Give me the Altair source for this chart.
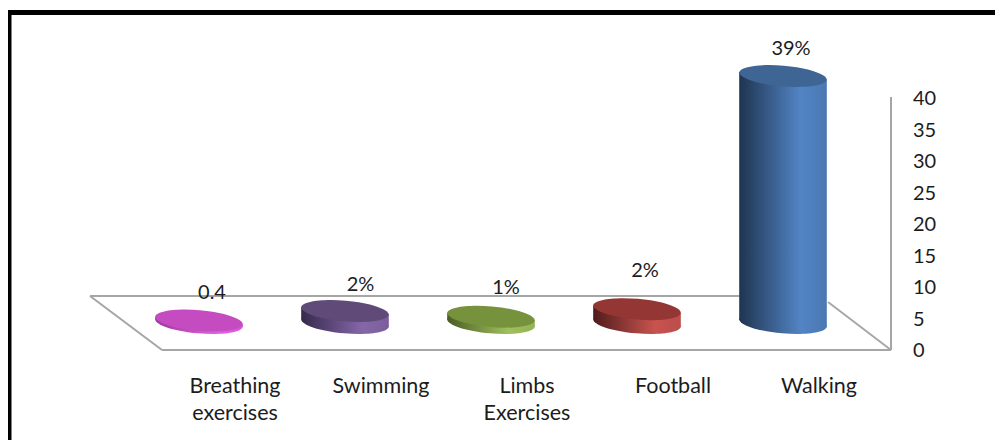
import altair as alt
import pandas as pd

categories = ["Breathing exercises", "Swimming", "Limbs Exercises", "Football", "Walking"]
values = [0.4, 1.9, 1.0, 2.2, 39.2]
value_labels = ["0.4", "2%", "1%", "2%", "39%"]
line1 = ["Breathing", "Swimming", "Limbs", "Football", "Walking"]
line2 = ["exercises", "", "Exercises", "", ""]
ticks = [0, 5, 10, 15, 20, 25, 30, 35, 40]

FONT = "Lato"
INK = "#1c1c1c"
GRID = "#a6a6a6"
PX_PER_UNIT = 6.3
STEP = 146
DEPTH = 27 / PX_PER_UNIT
TILT = 3.8 / PX_PER_UNIT
HALF = 43.8 / STEP
ELLIPSE = "M-0.996,-0.087A1,0.24,5,0,1,0.996,0.087A1,0.24,5,0,1,-0.996,-0.087Z"
BAR = 88
W, H = 987, 432

palette = [
    ("#c44cc0", "#9c389a", "#e25fdd", "#d957d4"),
    ("#5f4a78", "#35294c", "#8567a8", "#7a5e9a"),
    ("#76923c", "#4a5c26", "#a0c05c", "#93b255"),
    ("#943634", "#4f1c1b", "#c8534f", "#bb4d4a"),
    ("#3f6594", "#1f3451", "#5284c4", "#4a78b2"),
]
label_nudge = [(13, -28.5), (15.5, -27), (15, -30), (8, -39), (8, -28)]

x_scale = alt.Scale(domain=[-191 / STEP, (W - 191) / STEP], nice=False, zero=False)
y_scale = alt.Scale(domain=[(342 - H) / PX_PER_UNIT, 342 / PX_PER_UNIT], nice=False, zero=False)
X = alt.X("pos:Q", scale=x_scale, axis=None)
Yq = lambda f: alt.Y(f"{f}:Q", scale=y_scale, axis=None)


def line(x1, y1, x2, y2, color=GRID, w=2):
    return alt.Chart(pd.DataFrame({"a": [0]})).mark_rule(color=color, strokeWidth=w).encode(
        x=alt.value(x1 - 8), x2=alt.value(x2 - 8), y=alt.value(y1 - 8), y2=alt.value(y2 - 8)
    )


def grad(dark, light, end):
    return alt.LinearGradient(
        gradient="linear", x1=0, x2=1, y1=0, y2=0,
        stops=[
            alt.GradientStop(offset=0, color=dark),
            alt.GradientStop(offset=0.7, color=light),
            alt.GradientStop(offset=1, color=end),
        ],
    )


layers = [
    line(90, 296, 790, 296),
    line(90, 296, 162, 350),
    line(828, 302, 891, 350),
    line(162, 350, 891, 350),
    line(891, 97, 891, 350),
    line(8, 12.5, 8 + W, 12.5, "#000000", 5),
    line(9.5, 10, 9.5, 8 + H, "#000000", 4),
]

for i, cat in enumerate(categories):
    top, dark, light, end = palette[i]
    g = grad(dark, light, end)
    v = values[i] + DEPTH
    d = pd.DataFrame({"pos": [i], "base": [DEPTH], "top": [v], "lab": [value_labels[i]]})
    body = pd.DataFrame({
        "pos": [i - HALF, i + HALF],
        "upper": [v + TILT, v - TILT],
        "lower": [DEPTH + TILT, DEPTH - TILT],
    })
    base = alt.Chart(d)
    layers.append(base.mark_point(shape=ELLIPSE, size=BAR ** 2, filled=True, fill=g, opacity=1, strokeWidth=0)
                  .encode(x=X, y=Yq("base")))
    layers.append(alt.Chart(body).mark_area(fill=g, opacity=1, interpolate="linear")
                  .encode(x=X, y=Yq("upper"), y2=alt.Y2("lower:Q")))
    layers.append(base.mark_point(shape=ELLIPSE, size=BAR ** 2, filled=True, fill=top, opacity=1, strokeWidth=0)
                  .encode(x=X, y=Yq("top")))
    dx, dy = label_nudge[i]
    layers.append(base.mark_text(font=FONT, fontSize=20, color=INK, dx=dx, dy=dy + 1, baseline="middle", align="center")
                  .encode(x=X, y=Yq("top"), text="lab:N"))

xlab = pd.DataFrame({"pos": list(range(len(categories))), "l1": line1, "l2": line2})
layers.append(alt.Chart(xlab).mark_text(font=FONT, fontSize=21.5, color=INK, dx=36, baseline="middle")
              .encode(x=X, y=alt.value(378.5), text="l1:N"))
layers.append(alt.Chart(xlab).mark_text(font=FONT, fontSize=21.5, color=INK, dx=36, baseline="middle")
              .encode(x=X, y=alt.value(405.5), text="l2:N"))
layers.append(alt.Chart(pd.DataFrame({"t": ticks})).mark_text(font=FONT, fontSize=20, color=INK, align="left", baseline="middle", dy=1)
              .encode(x=alt.value(905), y=Yq("t"), text="t:Q"))

chart = alt.layer(*layers).properties(
    width=W, height=H, padding=0, background="#ffffff", autosize=alt.AutoSizeParams(type="none")
).configure_view(stroke=None)
chart.save("out.html", embed_options={"renderer": "svg", "actions": False})
